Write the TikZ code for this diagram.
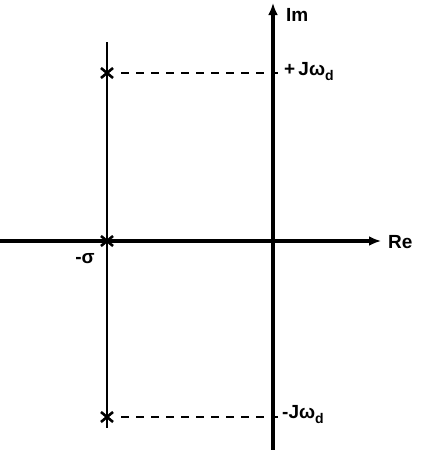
\documentclass[tikz,border=0pt]{standalone}
\usepackage{fontspec}
\setmainfont{Liberation Sans}
\usetikzlibrary{arrows.meta}
\newcommand{\subd}{\raisebox{-5pt}{\fontsize{14}{14}\selectfont d}}
\begin{document}
\begin{tikzpicture}[x=1pt,y=-1pt,
  axis/.style={line width=3.2pt,-{Latex[length=12pt,width=10pt]}},
  pole/.style={line width=2.6pt},
  guide/.style={line width=1.8pt,dash pattern=on 8pt off 7pt},
  lbl/.style={font=\fontsize{19}{19}\selectfont\bfseries,inner sep=1pt}]
\useasboundingbox (0,0) rectangle (424,450);
% coordinates
\coordinate (reL) at (0,241);
\coordinate (reR) at (381,241);
\coordinate (imB) at (273,450);
\coordinate (imT) at (273,3);
\coordinate (vT) at (107,42);
\coordinate (vB) at (107,428);
\coordinate (p1) at (107,73);
\coordinate (p0) at (107,241);
\coordinate (p2) at (107,417);
\coordinate (q1) at (278,73);
\coordinate (q2) at (278,417);
% axes
\draw[axis] (reL) -- (reR);
\draw[axis] (imB) -- (imT);
\draw[line width=2.2pt] (vT) -- (vB);
% dashed guides
\draw[guide] (p1) ++(14,0) -- (q1);
\draw[guide] (p2) ++(14,0) -- (q2);
% poles
\foreach \p in {p1,p0,p2}{
  \draw[pole] (\p) ++(-6,-5) -- ++(12,10);
  \draw[pole] (\p) ++(-6,5) -- ++(12,-10);
  \draw[pole] (\p) ++(0,-8) -- ++(0,16);
}
% labels
\node[lbl,anchor=west] (im) at (285,15) {Im};
\node[lbl,anchor=west] (re) at (387,242) {Re};
\node[lbl,anchor=west] (wp) at (283,72) {+\,Jω\subd};
\node[lbl,anchor=west] (wm) at (281,415) {-Jω\subd};
\node[lbl,anchor=center] (sg) at (85,259) {-σ};
\end{tikzpicture}
\end{document}
